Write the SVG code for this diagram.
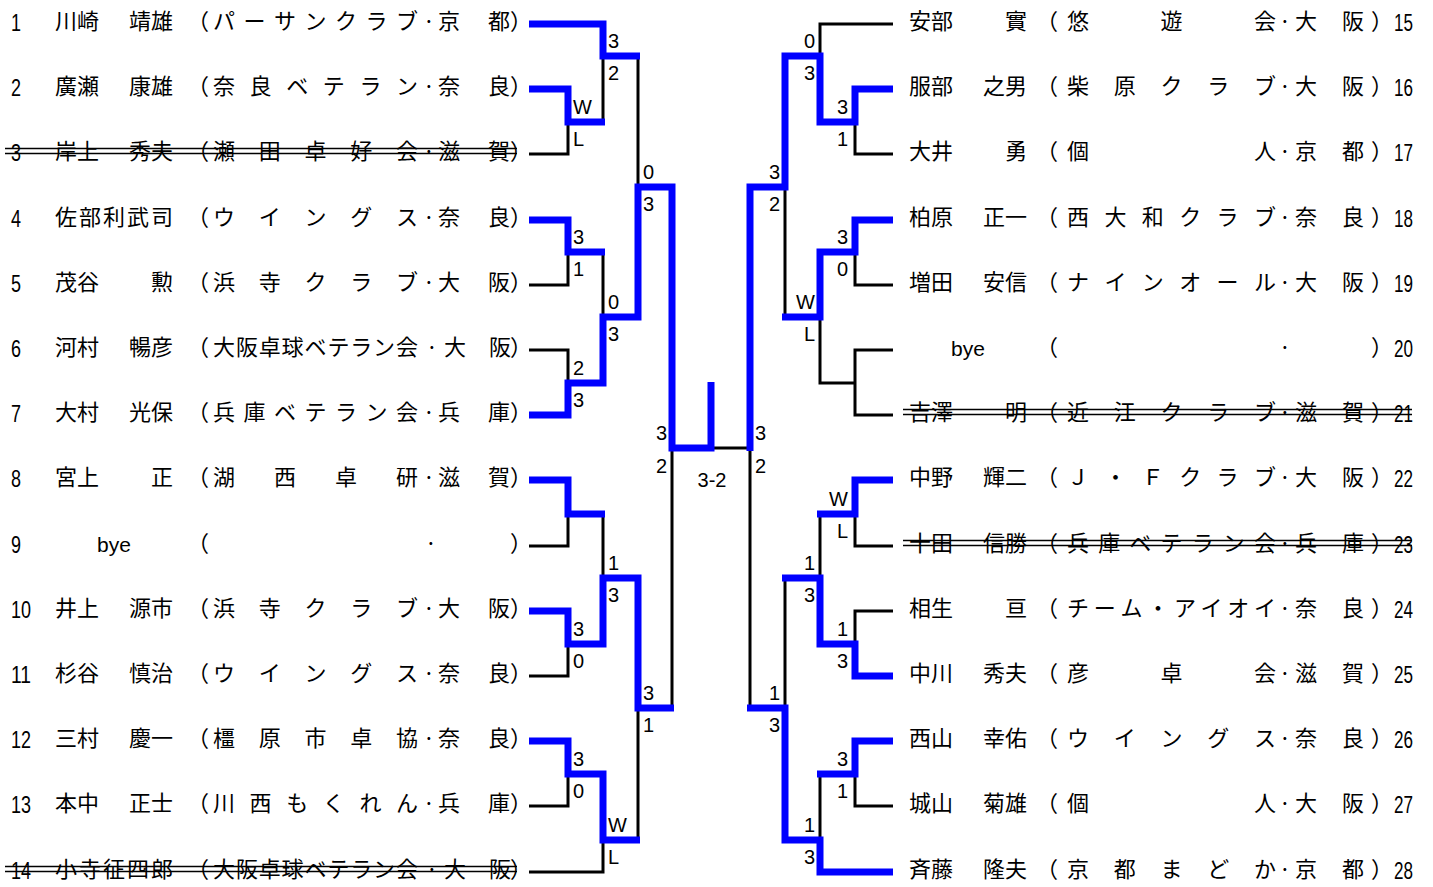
<svg xmlns="http://www.w3.org/2000/svg" width="1433" height="887" viewBox="0 0 1433 887">
<style>
.t{font-family:"Noto Sans CJK JP","Noto Sans CJK SC",sans-serif;font-size:22px;fill:#000;text-anchor:middle}
.n{font-family:"Liberation Sans","Noto Sans CJK JP",sans-serif;font-size:23px;fill:#000}
.bye{font-family:"Liberation Sans","Noto Sans CJK JP",sans-serif;font-size:21px;fill:#000;text-anchor:middle}
.s{font-family:"Liberation Sans","Noto Sans CJK JP",sans-serif;font-size:20px;fill:#000}
.e{text-anchor:end}
.k{fill:none;stroke:#000;stroke-width:3;stroke-linejoin:miter}
.b{fill:none;stroke:#0000ff;stroke-width:7;stroke-linejoin:miter}
.st{stroke:#000;stroke-width:1.6}
</style>
<rect width="1433" height="887" fill="#fff"/>

<g id="connectors">
<g id="black-lines">
<path class="k" d="M529 154H568V122"/>
<path class="k" d="M603 122V56"/>
<path class="k" d="M638 56V187"/>
<path class="k" d="M529 285H568V252"/>
<path class="k" d="M603 252V317"/>
<path class="k" d="M529 350H568V383"/>
<path class="k" d="M529 546H568V514"/>
<path class="k" d="M603 514V578"/>
<path class="k" d="M529 676H568V644"/>
<path class="k" d="M672 708V448"/>
<path class="k" d="M529 806H568V774"/>
<path class="k" d="M529 872H603V840"/>
<path class="k" d="M638 840V708"/>
<path class="k" d="M711 448H750"/>
<path class="k" d="M893 24H820V56"/>
<path class="k" d="M893 154H855V122"/>
<path class="k" d="M785 187V317"/>
<path class="k" d="M893 285H855V252"/>
<path class="k" d="M820 317V383H855"/>
<path class="k" d="M893 350H855V415H893"/>
<path class="k" d="M893 546H855V514"/>
<path class="k" d="M820 514V578"/>
<path class="k" d="M893 611H855V644"/>
<path class="k" d="M785 578V708"/>
<path class="k" d="M893 806H855V774"/>
<path class="k" d="M820 774V840"/>
<path class="k" d="M750 708V448"/>
</g>
<g id="blue-lines">
<path class="b" d="M529 24H603V56H640"/>
<path class="b" d="M529 89H568V122H605"/>
<path class="b" d="M529 220H568V252H605"/>
<path class="b" d="M529 415H568V383H603V317H638V187H672V448H711V382"/>
<path class="b" d="M529 480H568V514H605"/>
<path class="b" d="M529 611H568V644H603V578H638V708H674"/>
<path class="b" d="M529 741H568V774H603V840H640"/>
<path class="b" d="M893 89H855V122H820V56H785V187H750V451"/>
<path class="b" d="M893 220H855V252H820V317H782"/>
<path class="b" d="M893 480H855V514H817"/>
<path class="b" d="M893 676H855V644H820V578H782"/>
<path class="b" d="M893 741H855V774H817"/>
<path class="b" d="M893 872H820V840H785V708H747"/>
</g>
</g>

<g id="scores">
<text class="s" x="608" y="48">3</text><text class="s" x="608" y="80">2</text>
<text class="s" x="573" y="114">W</text><text class="s" x="573" y="146">L</text>
<text class="s" x="573" y="244">3</text><text class="s" x="573" y="276">1</text>
<text class="s" x="608" y="309">0</text><text class="s" x="608" y="341">3</text>
<text class="s" x="573" y="375">2</text><text class="s" x="573" y="407">3</text>
<text class="s" x="643" y="179">0</text><text class="s" x="643" y="211">3</text>
<text class="s" x="608" y="570">1</text><text class="s" x="608" y="602">3</text>
<text class="s" x="573" y="636">3</text><text class="s" x="573" y="668">0</text>
<text class="s" x="643" y="700">3</text><text class="s" x="643" y="732">1</text>
<text class="s" x="573" y="766">3</text><text class="s" x="573" y="798">0</text>
<text class="s" x="608" y="832">W</text><text class="s" x="608" y="864">L</text>
<text class="s e" x="667" y="440">3</text><text class="s e" x="667" y="473">2</text>
<text class="s" x="755" y="440">3</text><text class="s" x="755" y="473">2</text>
<text class="s" x="712" y="487" text-anchor="middle">3-2</text>
<text class="s e" x="815" y="48">0</text><text class="s e" x="815" y="80">3</text>
<text class="s e" x="848" y="114">3</text><text class="s e" x="848" y="146">1</text>
<text class="s e" x="780" y="179">3</text><text class="s e" x="780" y="211">2</text>
<text class="s e" x="848" y="244">3</text><text class="s e" x="848" y="276">0</text>
<text class="s e" x="815" y="309">W</text><text class="s e" x="815" y="341">L</text>
<text class="s e" x="848" y="506">W</text><text class="s e" x="848" y="538">L</text>
<text class="s e" x="815" y="570">1</text><text class="s e" x="815" y="602">3</text>
<text class="s e" x="848" y="636">1</text><text class="s e" x="848" y="668">3</text>
<text class="s e" x="780" y="700">1</text><text class="s e" x="780" y="732">3</text>
<text class="s e" x="848" y="766">3</text><text class="s e" x="848" y="798">1</text>
<text class="s e" x="815" y="832">1</text><text class="s e" x="815" y="864">3</text>
</g>

<g id="p1"><text class="n" x="11" y="31" textLength="10" lengthAdjust="spacingAndGlyphs">1</text>
<text class="t" y="29" x="66 88 140 162 198 224 254.5 285 315.5 346 376.5 407 429 449 499 521">川崎靖雄（パーサンクラブ·京都）</text></g>
<g id="p2"><text class="n" x="11" y="96" textLength="10" lengthAdjust="spacingAndGlyphs">2</text>
<text class="t" y="94" x="66 88 140 162 198 224 260.6 297.2 333.8 370.4 407 429 449 499 521">廣瀬康雄（奈良ベテラン·奈良）</text></g>
<g id="p3"><text class="n" x="11" y="161" textLength="10" lengthAdjust="spacingAndGlyphs">3</text>
<text class="t" y="159" x="66 88 140 162 198 224 269.75 315.5 361.25 407 429 449 499 521">岸上秀夫（瀬田卓好会·滋賀）</text>
<line class="st" x1="5" y1="148.5" x2="517" y2="148.5"/><line class="st" x1="5" y1="153.5" x2="517" y2="153.5"/></g>
<g id="p4"><text class="n" x="11" y="227" textLength="10" lengthAdjust="spacingAndGlyphs">4</text>
<text class="t" y="225" x="66 90 114 138 162 198 224 269.75 315.5 361.25 407 429 449 499 521">佐部利武司（ウイングス·奈良）</text></g>
<g id="p5"><text class="n" x="11" y="292" textLength="10" lengthAdjust="spacingAndGlyphs">5</text>
<text class="t" y="290" x="66 88 162 198 224 269.75 315.5 361.25 407 429 449 499 521">茂谷勲（浜寺クラブ·大阪）</text></g>
<g id="p6"><text class="n" x="11" y="357" textLength="10" lengthAdjust="spacingAndGlyphs">6</text>
<text class="t" y="355" x="66 88 140 162 198 224 246.9 269.75 292.6 315.5 338.4 361.25 384.1 407 432 455 500 521">河村暢彦（大阪卓球ベテラン会·大阪）</text></g>
<g id="p7"><text class="n" x="11" y="422" textLength="10" lengthAdjust="spacingAndGlyphs">7</text>
<text class="t" y="420" x="66 88 140 162 198 224 254.5 285 315.5 346 376.5 407 429 449 499 521">大村光保（兵庫ベテラン会·兵庫）</text></g>
<g id="p8"><text class="n" x="11" y="487" textLength="10" lengthAdjust="spacingAndGlyphs">8</text>
<text class="t" y="485" x="66 88 162 198 224 285 346 407 429 449 499 521">宮上正（湖西卓研·滋賀）</text></g>
<g id="p9"><text class="n" x="11" y="553" textLength="10" lengthAdjust="spacingAndGlyphs">9</text>
<text class="bye" x="114" y="552">bye</text>
<text class="t" y="551" x="198 431 521">（·）</text></g>
<g id="p10"><text class="n" x="11" y="618" textLength="20" lengthAdjust="spacingAndGlyphs">10</text>
<text class="t" y="616" x="66 88 140 162 198 224 269.75 315.5 361.25 407 429 449 499 521">井上源市（浜寺クラブ·大阪）</text></g>
<g id="p11"><text class="n" x="11" y="683" textLength="20" lengthAdjust="spacingAndGlyphs">11</text>
<text class="t" y="681" x="66 88 140 162 198 224 269.75 315.5 361.25 407 429 449 499 521">杉谷慎治（ウイングス·奈良）</text></g>
<g id="p12"><text class="n" x="11" y="748" textLength="20" lengthAdjust="spacingAndGlyphs">12</text>
<text class="t" y="746" x="66 88 140 162 198 224 269.75 315.5 361.25 407 429 449 499 521">三村慶一（橿原市卓協·奈良）</text></g>
<g id="p13"><text class="n" x="11" y="813" textLength="20" lengthAdjust="spacingAndGlyphs">13</text>
<text class="t" y="811" x="66 88 140 162 198 224 260.6 297.2 333.8 370.4 407 429 449 499 521">本中正士（川西もくれん·兵庫）</text></g>
<g id="p14"><text class="n" x="11" y="879" textLength="20" lengthAdjust="spacingAndGlyphs">14</text>
<text class="t" y="877" x="66 90 114 138 162 198 224 246.9 269.75 292.6 315.5 338.4 361.25 384.1 407 432 455 500 521">小寺征四郎（大阪卓球ベテラン会·大阪）</text>
<line class="st" x1="5" y1="866.5" x2="517" y2="866.5"/><line class="st" x1="5" y1="871.5" x2="517" y2="871.5"/></g>

<g id="p15"><text class="t" y="29" x="920 942 1016 1047 1078 1171.5 1265 1285 1306 1353 1382">安部實（悠遊会·大阪）</text>
<text class="n e" x="1413" y="31" textLength="19" lengthAdjust="spacingAndGlyphs">15</text></g>
<g id="p16"><text class="t" y="94" x="920 942 994 1016 1047 1078 1124.75 1171.5 1218.25 1265 1285 1306 1353 1382">服部之男（柴原クラブ·大阪）</text>
<text class="n e" x="1413" y="96" textLength="19" lengthAdjust="spacingAndGlyphs">16</text></g>
<g id="p17"><text class="t" y="159" x="920 942 1016 1047 1078 1265 1285 1306 1353 1382">大井勇（個人·京都）</text>
<text class="n e" x="1413" y="161" textLength="19" lengthAdjust="spacingAndGlyphs">17</text></g>
<g id="p18"><text class="t" y="225" x="920 942 994 1016 1047 1078 1115.4 1152.8 1190.2 1227.6 1265 1285 1306 1353 1382">柏原正一（西大和クラブ·奈良）</text>
<text class="n e" x="1413" y="227" textLength="19" lengthAdjust="spacingAndGlyphs">18</text></g>
<g id="p19"><text class="t" y="290" x="920 942 994 1016 1047 1078 1115.4 1152.8 1190.2 1227.6 1265 1285 1306 1353 1382">増田安信（ナインオール·大阪）</text>
<text class="n e" x="1413" y="292" textLength="19" lengthAdjust="spacingAndGlyphs">19</text></g>
<g id="p20"><text class="bye" x="968" y="356">bye</text>
<text class="t" y="355" x="1047 1285 1382">（·）</text>
<text class="n e" x="1413" y="357" textLength="19" lengthAdjust="spacingAndGlyphs">20</text></g>
<g id="p21"><text class="t" y="420" x="920 942 1016 1047 1078 1124.75 1171.5 1218.25 1265 1285 1306 1353 1382">吉澤明（近江クラブ·滋賀）</text>
<text class="n e" x="1413" y="422" textLength="19" lengthAdjust="spacingAndGlyphs">21</text>
<line class="st" x1="903" y1="409.5" x2="1412" y2="409.5"/><line class="st" x1="903" y1="414.5" x2="1412" y2="414.5"/></g>
<g id="p22"><text class="t" y="485" x="920 942 994 1016 1047 1078 1115.4 1152.8 1190.2 1227.6 1265 1285 1306 1353 1382">中野輝二（Ｊ・Ｆクラブ·大阪）</text>
<text class="n e" x="1413" y="487" textLength="19" lengthAdjust="spacingAndGlyphs">22</text></g>
<g id="p23"><text class="t" y="551" x="920 942 994 1016 1047 1078 1109.2 1140.3 1171.5 1202.7 1233.8 1265 1285 1306 1353 1382">十田信勝（兵庫ベテラン会·兵庫）</text>
<text class="n e" x="1413" y="553" textLength="19" lengthAdjust="spacingAndGlyphs">23</text>
<line class="st" x1="903" y1="540.5" x2="1412" y2="540.5"/><line class="st" x1="903" y1="545.5" x2="1412" y2="545.5"/></g>
<g id="p24"><text class="t" y="616" x="920 942 1016 1047 1078 1104.7 1131.4 1158.1 1184.9 1211.6 1238.3 1265 1285 1306 1353 1382">相生亘（チーム・アイオイ·奈良）</text>
<text class="n e" x="1413" y="618" textLength="19" lengthAdjust="spacingAndGlyphs">24</text></g>
<g id="p25"><text class="t" y="681" x="920 942 994 1016 1047 1078 1171.5 1265 1285 1306 1353 1382">中川秀夫（彦卓会·滋賀）</text>
<text class="n e" x="1413" y="683" textLength="19" lengthAdjust="spacingAndGlyphs">25</text></g>
<g id="p26"><text class="t" y="746" x="920 942 994 1016 1047 1078 1124.75 1171.5 1218.25 1265 1285 1306 1353 1382">西山幸佑（ウイングス·奈良）</text>
<text class="n e" x="1413" y="748" textLength="19" lengthAdjust="spacingAndGlyphs">26</text></g>
<g id="p27"><text class="t" y="811" x="920 942 994 1016 1047 1078 1265 1285 1306 1353 1382">城山菊雄（個人·大阪）</text>
<text class="n e" x="1413" y="813" textLength="19" lengthAdjust="spacingAndGlyphs">27</text></g>
<g id="p28"><text class="t" y="877" x="920 942 994 1016 1047 1078 1124.75 1171.5 1218.25 1265 1285 1306 1353 1382">斉藤隆夫（京都まどか·京都）</text>
<text class="n e" x="1413" y="879" textLength="19" lengthAdjust="spacingAndGlyphs">28</text></g>
</svg>
